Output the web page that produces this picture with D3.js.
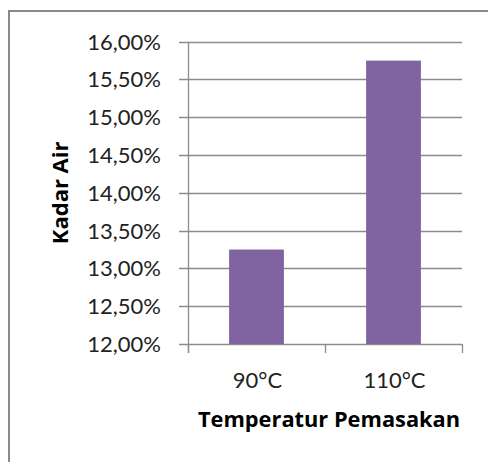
<!DOCTYPE html>
<html><head><meta charset="utf-8">
<script src="https://cdn.jsdelivr.net/npm/d3@7"></script>
<style>body{margin:0;background:#fff}svg{display:block}</style>
</head><body>
<svg id="c" width="488" height="462"></svg>
<script>
const categories = ["90°C", "110°C"];
const values = [13.25, 15.75];
const yTicks = [12, 12.5, 13, 13.5, 14, 14.5, 15, 15.5, 16];
const yTitle = "Kadar Air";
const xTitle = "Temperatur Pemasakan";

const svg = d3.select("#c");
const font = "Lato, 'Open Sans', sans-serif";
const boldFont = "'Open Sans', Lato, sans-serif";
// frame
svg.append("path").attr("d","M9,470 V11 H500").attr("fill","none").attr("stroke","#8a8a8a").attr("stroke-width",2);

const m = {l:188, r:462, t:41.7, b:344};
const x = d3.scaleBand().domain(categories).range([m.l, m.r]).paddingInner(0.6).paddingOuter(0.3);
const y = d3.scaleLinear().domain([12,16]).range([m.b, m.t]);

// gridlines
svg.append("g").selectAll("line").data(yTicks).join("line")
  .attr("x1", m.l - 9).attr("x2", m.r)
  .attr("y1", d=>Math.round(y(d))+0.5).attr("y2", d=>Math.round(y(d))+0.5)
  .attr("stroke","#8c8c8c").attr("stroke-width",1.3);

// y axis line
svg.append("line").attr("x1",m.l+0.5).attr("x2",m.l+0.5).attr("y1",m.t).attr("y2",m.b+9)
  .attr("stroke","#8c8c8c").attr("stroke-width",1.3);
// x tick marks
const xb = [m.l, (m.l+m.r)/2, m.r];
svg.append("g").selectAll("line").data(xb).join("line")
  .attr("x1",d=>Math.round(d)+0.5).attr("x2",d=>Math.round(d)+0.5).attr("y1",m.b).attr("y2",m.b+9)
  .attr("stroke","#8c8c8c").attr("stroke-width",1.3);

// bars
svg.append("g").selectAll("rect").data(values).join("rect")
  .attr("x",(d,i)=>x(categories[i])).attr("width",x.bandwidth())
  .attr("y",d=>y(d)).attr("height",d=>y(12)-y(d))
  .attr("fill","#8064A2");

// y tick labels
const fmt = d => d.toFixed(2).replace(".", ",") + "%";
svg.append("g").selectAll("text").data(yTicks).join("text")
  .attr("x",161).attr("y",d=>y(d)).attr("dy","0.36em")
  .attr("text-anchor","end").attr("font-family",font).attr("font-size",22).attr("fill","#222")
  .text(fmt);

// x labels
svg.append("g").selectAll("text").data(categories).join("text")
  .attr("x",d=>x(d)+x.bandwidth()/2+1).attr("y",388)
  .attr("text-anchor","middle").attr("font-family",font).attr("font-size",22).attr("fill","#222")
  .text(d=>d);

// titles
svg.append("text").attr("transform",`translate(68,${(m.t+m.b)/2}) rotate(-90)`)
  .attr("text-anchor","middle").attr("font-family",boldFont).attr("font-weight","bold").attr("font-size",22).attr("fill","#000")
  .text(yTitle);
svg.append("text").attr("x",329).attr("y",427)
  .attr("text-anchor","middle").attr("font-family",boldFont).attr("font-weight","bold").attr("font-size",21.8).attr("fill","#000")
  .text(xTitle);
</script>
</body></html>
